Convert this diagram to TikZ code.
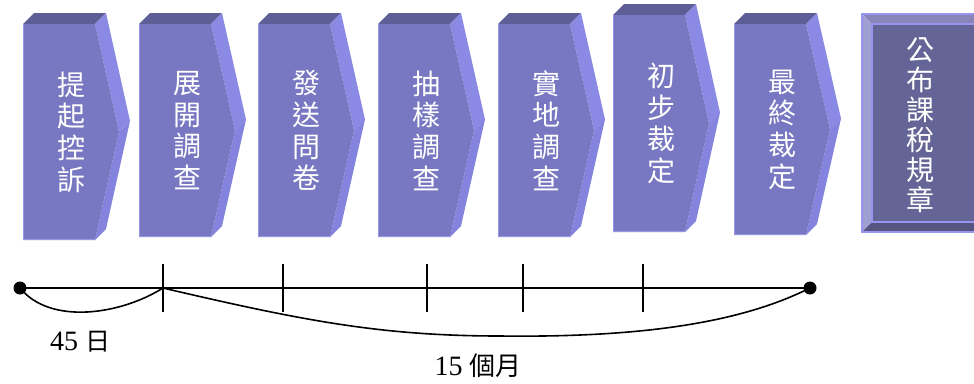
\documentclass[tikz,border=0pt]{standalone}
\usepackage{fontspec}
\setmainfont{Liberation Serif}
\newfontfamily\cjk{Noto Sans CJK TC}
\definecolor{frontc}{RGB}{120,120,194}
\definecolor{topc}{RGB}{94,94,150}
\definecolor{sidec}{RGB}{138,138,228}
\definecolor{sidecb}{RGB}{132,132,222}
\definecolor{edgec}{RGB}{150,150,230}
\definecolor{fininner}{RGB}{100,100,150}
\definecolor{fintop}{RGB}{137,133,186}
\definecolor{finleft}{RGB}{160,159,210}
\definecolor{finbot}{RGB}{86,84,128}
\definecolor{finline}{RGB}{150,150,240}
\tikzset{
  chtext/.style={text=white, align=center, inner sep=0pt, font=\cjk\fontsize{28}{31.7}\selectfont},
  fintext/.style={text=white, align=center, inner sep=0pt, font=\cjk\fontsize{28}{30}\selectfont},
  tline/.style={line width=2.5pt, black},
  tickline/.style={line width=1.6pt, black},
  brace/.style={line width=1.6pt, black},
  dot/.style={circle, fill=black, inner sep=0pt, minimum size=13pt},
  lbl/.style={inner sep=0pt, font=\fontsize{28}{30}\selectfont}
}
\newcommand{\chev}[5]{%
  \pgfmathsetmacro\ym{(#3+#4)/2}%
  \fill[topc] (#2,#3) -- ++(11,-11) -- ++(72,0) -- ++(-11,11) -- cycle;
  \fill[sidec] (#2+72,#3) -- (#2+83,#3-11) -- (#2+107,\ym-11) -- (#2+96,\ym) -- cycle;
  \fill[sidecb] (#2+96,\ym) -- (#2+107,\ym-11) -- (#2+83,#4-11) -- (#2+72,#4) -- cycle;
  \fill[frontc] (#2,#3) -- (#2+72,#3) -- (#2+96,\ym) -- (#2+72,#4) -- (#2,#4) -- cycle;
  \draw[edgec, line width=1pt] (#2+0.5,#3) -- (#2+0.5,#4-0.5) -- (#2+72,#4-0.5);
  \node[chtext] (#1) at (#2+48,\ym) {#5};
}
\begin{document}
\begin{tikzpicture}[x=1pt, y=-1pt]
\path[use as bounding box, clip] (0,0) rectangle (974,383);
\fill[white] (0,0) rectangle (974,383);
% chevrons
\chev{c1}{23}{24}{240}{提\\起\\控\\訴}
\chev{c2}{139}{24}{237}{展\\開\\調\\查}
\chev{c3}{258}{24}{237}{發\\送\\問\\卷}
\chev{c4}{378}{24}{237}{抽\\樣\\調\\查}
\chev{c5}{498}{24}{237}{實\\地\\調\\查}
\chev{c6}{613}{15}{232}{初\\步\\裁\\定}
\chev{c7}{734}{24}{235}{最\\終\\裁\\定}
% final box
\fill[fintop] (862,14) -- (990,14) -- (990,24) -- (872,24) -- cycle;
\fill[finleft] (862,14) -- (872,24) -- (872,222) -- (862,232) -- cycle;
\fill[finbot] (862,232) -- (872,222) -- (990,222) -- (990,232) -- cycle;
\fill[fininner] (872,24) rectangle (990,222);
\draw[finline, line width=1.5pt] (862,14) rectangle (990,232);
\draw[finline, line width=1.2pt] (872,24) rectangle (990,222);
\node[fintext] (fin) at (920,125) {公\\布\\課\\稅\\規\\章};
% timeline
\coordinate (L) at (20,288);
\coordinate (R) at (810,288);
\coordinate (t1) at (163,288);
\coordinate (t2) at (283,288);
\coordinate (t3) at (427,288);
\coordinate (t4) at (523,288);
\coordinate (t5) at (643,288);
\draw[tline] (L) -- (R);
\foreach \t in {t1,t2,t3,t4,t5} {
  \draw[tickline] ([yshift=24pt]\t) -- ([yshift=-24pt]\t);
}
\draw[brace] (L) .. controls (50,325) and (120,315) .. (t1);
\coordinate (bm) at (500,336);
\draw[brace] (t1) .. controls (300,320) and (380,336) .. (bm) .. controls (660,338) and (750,318) .. (R);
\node[dot] (dL) at (L) {};
\node[dot] (dR) at (R) {};
\node[lbl] (l45) at (80,342) {45 {\cjk\fontsize{25}{28}\selectfont 日}};
\node[lbl] (l15) at (478,366) {15 {\cjk\fontsize{26}{28}\selectfont 個月}};
\end{tikzpicture}
\end{document}
